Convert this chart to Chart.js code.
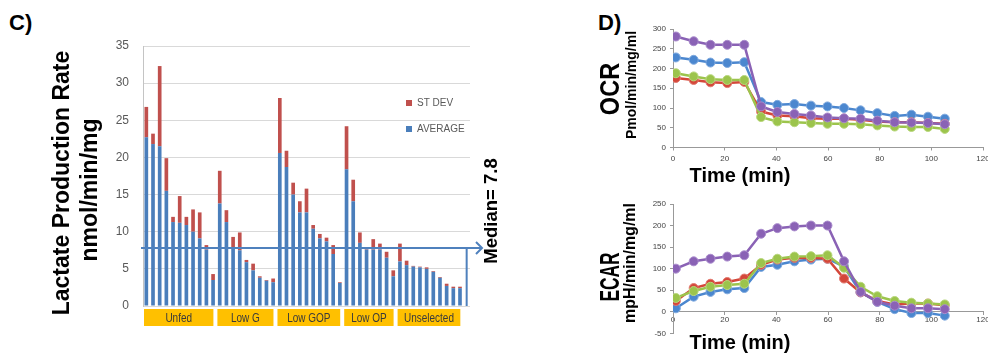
<!DOCTYPE html>
<html>
<head>
<meta charset="utf-8">
<script src="https://cdn.jsdelivr.net/npm/chart.js@4.4.1/dist/chart.umd.min.js"></script>
<style>
  html, body { margin: 0; padding: 0; background: #fff; overflow: hidden; width: 988px; height: 355px; }
  .panel { position: absolute; }
  .tag { position: absolute; font: bold 22px "Liberation Sans", Arial, sans-serif; color: #000; }
</style>
</head>
<body>
<div class="tag" style="left:9px;top:10px">C)</div>
<div class="tag" style="left:598px;top:10px">D)</div>
<div class="panel" style="left:0;top:0;width:520px;height:355px"><canvas id="lactate"></canvas></div>
<div class="panel" style="left:590px;top:0;width:410px;height:190px"><canvas id="ocr"></canvas></div>
<div class="panel" style="left:590px;top:190px;width:410px;height:165px"><canvas id="ecar"></canvas></div>

<script>
// ---- panel C: lactate production ----
const groupNames = ["Unfed", "Low G", "Low GOP", "Low OP", "Unselected"];
const groupSizes = [11, 9, 10, 8, 10];
const averageValues = [
  22.7, 21.8, 21.5, 15.5, 11.3, 11.2, 10.9, 10.0, 9.1, 7.6, 3.5,
  13.8, 11.3, 7.8, 7.5, 5.9, 4.8, 3.8, 3.4, 3.2,
  20.6, 18.7, 15.0, 12.6, 12.6, 10.4, 9.1, 8.7, 7.0, 3.1,
  18.4, 14.1, 8.5, 7.6, 7.6, 7.6, 6.5, 4.0,
  6.0, 5.5, 5.3, 5.2, 5.0, 4.6, 3.8, 2.7, 2.4, 2.4,
];
const stdevValues = [
  4.1, 1.4, 10.8, 4.4, 0.7, 3.6, 1.1, 3.0, 3.5, 0.6, 0.8,
  4.4, 1.6, 1.5, 2.4, 0.3, 0.9, 0.2, 0.1, 0.5,
  7.4, 2.2, 1.6, 1.5, 3.2, 0.5, 0.6, 0.5, 1.2, 0.1,
  5.8, 2.9, 1.4, 0.3, 1.4, 0.8, 0.8, 0.8,
  2.4, 0.6, 0.1, 0.1, 0.2, 0.1, 0.1, 0.3, 0.2, 0.2,
];
const medianValue = 7.8;
const lactateTicks = { min: 0, max: 35, step: 5 };

// ---- panel D: OCR / ECAR time courses ----
const timeMin = [1.1, 8.0, 14.5, 21.0, 27.6, 34.1, 40.4, 47.0, 53.4, 59.8, 66.2, 72.6, 79.1, 85.8, 92.3, 98.7, 105.2];
const ocrPurple = [281, 269, 260, 260, 260, 104, 90, 85, 81, 76, 74, 73, 68, 64, 63, 62, 59];
const ocrBlue = [228, 222, 215, 214, 216, 115, 108, 110, 106, 104, 100, 94, 87, 80, 83, 78, 73];
const ocrRed = [176, 171, 165, 163, 166, 91, 81, 79, 74, 73, 73, 70, 66, 64, 64, 62, 60];
const ocrGreen = [188, 180, 173, 171, 171, 77, 66, 64, 62, 60, 60, 59, 56, 53, 52, 52, 47];
const ecarPurple = [100, 117, 123, 128, 131, 181, 194, 198, 200, 200, 117, 46, 23, 14, 8, 8, 6];
const ecarBlue = [8, 35, 46, 52, 55, 104, 109, 117, 121, 123, 105, 45, 23, 6, -3, -3, -9];
const ecarRed = [25, 55, 65, 69, 77, 109, 121, 125, 125, 123, 77, 45, 25, 17, 19, 19, 15];
const ecarGreen = [32, 48, 58, 62, 65, 113, 123, 128, 129, 131, 102, 58, 36, 25, 21, 19, 17];

const seriesColors = {
  purple: ["#8a62b5", "#a98bcc"],
  green: ["#9cc44c", "#b9d87e"],
  red: ["#d4473a", "#e27a70"],
  blue: ["#4b87cf", "#7fa9de"],
};

Chart.defaults.font.family = '"Liberation Sans", Arial, sans-serif';
Chart.defaults.animation = false;

// free text (titles, labels) drawn on top of a chart
const textLayer = {
  id: "textLayer",
  afterDraw(chart, args, opts) {
    const ctx = chart.ctx;
    (opts.items || []).forEach((t) => {
      ctx.save();
      ctx.translate(t.x, t.y);
      if (t.rotate) ctx.rotate(-Math.PI / 2);
      if (t.squeeze) ctx.scale(t.squeeze, 1);
      ctx.font = t.font;
      ctx.fillStyle = t.color || "#000";
      ctx.textAlign = "center";
      ctx.textBaseline = "middle";
      ctx.fillText(t.text, 0, 0);
      ctx.restore();
    });
  },
};

// group boxes, median arrow and legend of the bar chart
const lactateDecor = {
  id: "lactateDecor",
  afterDraw(chart) {
    const { ctx, chartArea, scales } = chart;
    const x = scales.x;
    const y = scales.y;
    const slot = x.getPixelForValue(1) - x.getPixelForValue(0);
    ctx.save();

    let start = 0;
    groupNames.forEach((name, i) => {
      const end = start + groupSizes[i] - 1;
      const left = x.getPixelForValue(start) - slot / 2 + 1;
      const right = x.getPixelForValue(end) + slot / 2 - 3;
      ctx.fillStyle = "#FFC000";
      ctx.fillRect(left, chartArea.bottom + 3, right - left, 17);
      ctx.save();
      ctx.translate((left + right) / 2, chartArea.bottom + 12);
      ctx.scale(0.74, 1);
      ctx.fillStyle = "#3a3a3a";
      ctx.font = '13.5px "Liberation Sans", Arial, sans-serif';
      ctx.textAlign = "center";
      ctx.textBaseline = "middle";
      ctx.fillText(name, 0, 0);
      ctx.restore();
      start = end + 1;
    });

    const yMed = y.getPixelForValue(medianValue);
    const xLast = x.getPixelForValue(chart.data.labels.length - 1);
    const tip = chartArea.right + 12;
    ctx.strokeStyle = "#4F81BD";
    ctx.lineWidth = 2;
    ctx.beginPath();
    ctx.moveTo(chartArea.left - 2, yMed);
    ctx.lineTo(tip, yMed);
    ctx.moveTo(xLast, y.getPixelForValue(0));
    ctx.lineTo(xLast, yMed);
    ctx.moveTo(tip - 6, yMed - 6);
    ctx.lineTo(tip, yMed);
    ctx.lineTo(tip - 6, yMed + 6);
    ctx.stroke();

    const legendItems = chart.data.datasets.slice().reverse();
    ctx.font = '10px "Liberation Sans", Arial, sans-serif';
    ctx.textAlign = "left";
    ctx.textBaseline = "middle";
    legendItems.forEach((ds, i) => {
      const ly = chartArea.top + 57 + i * 26;
      ctx.fillStyle = ds.backgroundColor;
      ctx.fillRect(chartArea.right - 64, ly - 3, 6, 6);
      ctx.fillStyle = "#595959";
      ctx.fillText(ds.label, chartArea.right - 53, ly);
    });
    ctx.restore();
  },
};

const lactateLabels = [];
groupNames.forEach((name, i) => {
  for (let k = 1; k <= groupSizes[i]; k++) lactateLabels.push(name + " " + k);
});
lactateLabels.push("Median");

new Chart(document.getElementById("lactate"), {
  type: "bar",
  data: {
    labels: lactateLabels,
    datasets: [
      { label: "AVERAGE", data: [...averageValues, null], backgroundColor: "#4A7EBB" },
      { label: "ST DEV", data: [...stdevValues, null], backgroundColor: "#C0504D" },
    ],
  },
  options: {
    responsive: true,
    maintainAspectRatio: false,
    layout: { padding: { left: 0, right: 50, top: 46, bottom: 49 } },
    datasets: { bar: { barPercentage: 0.55, categoryPercentage: 1.0, borderWidth: 0 } },
    plugins: {
      legend: { display: false },
      tooltip: { enabled: false },
      textLayer: {
        items: [
          { text: "Lactate Production Rate", x: 63, y: 183, rotate: true, font: 'bold 23px "Liberation Sans", Arial, sans-serif' },
          { text: "nmol/min/mg", x: 91, y: 190, rotate: true, font: 'bold 23px "Liberation Sans", Arial, sans-serif' },
          { text: "Median= " + medianValue, x: 492, y: 211, rotate: true, font: 'bold 18.5px "Liberation Sans", Arial, sans-serif' },
        ],
      },
    },
    scales: {
      x: { display: false, stacked: true },
      y: {
        stacked: true,
        min: lactateTicks.min,
        max: lactateTicks.max,
        afterFit: (s) => { s.width = 143; },
        ticks: { stepSize: lactateTicks.step, padding: 14, color: "#595959", font: { size: 12 } },
        grid: { color: "#d9d9d9", drawTicks: false },
        border: { color: "#c4c4c4" },
      },
    },
  },
  plugins: [lactateDecor, textLayer],
});

function lineSeries(values, key) {
  const [main, rim] = seriesColors[key];
  return {
    data: values.map((v, i) => ({ x: timeMin[i], y: v })),
    borderColor: main,
    backgroundColor: main,
    borderWidth: 2.5,
    pointRadius: 4.5,
    pointBackgroundColor: main,
    pointBorderColor: rim,
    pointBorderWidth: 1,
    tension: 0,
  };
}

function timeAxis(extra) {
  return Object.assign({
    type: "linear",
    min: 0,
    max: 120,
    ticks: { stepSize: 20, padding: 3, color: "#444", font: { size: 8 } },
    grid: { display: true, drawOnChartArea: false, tickLength: 3, color: "#999" },
    border: { color: "#999" },
  }, extra);
}

function rateAxis(min, max) {
  return {
    min: min,
    max: max,
    afterFit: (s) => { s.width = 83; },
    ticks: { stepSize: 50, padding: 4, color: "#444", font: { size: 8 } },
    grid: { display: true, drawOnChartArea: false, tickLength: 3, color: "#999" },
    border: { color: "#999" },
  };
}

new Chart(document.getElementById("ocr"), {
  type: "line",
  data: {
    datasets: [
      lineSeries(ocrPurple, "purple"),
      lineSeries(ocrGreen, "green"),
      lineSeries(ocrRed, "red"),
      lineSeries(ocrBlue, "blue"),
    ],
  },
  options: {
    responsive: true,
    maintainAspectRatio: false,
    layout: { padding: { left: 0, right: 17, top: 29, bottom: 22.5 } },
    plugins: {
      legend: { display: false },
      tooltip: { enabled: false },
      textLayer: {
        items: [
          { text: "OCR", x: 21, y: 89, rotate: true, squeeze: 0.84, font: 'bold 28px "Liberation Sans", Arial, sans-serif' },
          { text: "Pmol/min/mg/ml", x: 42, y: 85, rotate: true, font: 'bold 14px "Liberation Sans", Arial, sans-serif' },
          { text: "Time (min)", x: 150, y: 176, font: 'bold 20px "Liberation Sans", Arial, sans-serif' },
        ],
      },
    },
    scales: {
      x: timeAxis({ afterFit: (s) => { s.height = 20; } }),
      y: rateAxis(0, 300),
    },
  },
  plugins: [textLayer],
});

new Chart(document.getElementById("ecar"), {
  type: "line",
  data: {
    datasets: [
      lineSeries(ecarPurple, "purple"),
      lineSeries(ecarGreen, "green"),
      lineSeries(ecarRed, "red"),
      lineSeries(ecarBlue, "blue"),
    ],
  },
  options: {
    responsive: true,
    maintainAspectRatio: false,
    layout: { padding: { left: 0, right: 17, top: 14, bottom: 21.7 } },
    plugins: {
      legend: { display: false },
      tooltip: { enabled: false },
      textLayer: {
        items: [
          { text: "ECAR", x: 21, y: 87, rotate: true, squeeze: 0.62, font: 'bold 28px "Liberation Sans", Arial, sans-serif' },
          { text: "mpH/min/mg/ml", x: 41, y: 73, rotate: true, font: 'bold 16px "Liberation Sans", Arial, sans-serif' },
          { text: "Time (min)", x: 150, y: 153, font: 'bold 20px "Liberation Sans", Arial, sans-serif' },
        ],
      },
    },
    scales: {
      x: timeAxis({ position: { y: 0 }, ticks: { stepSize: 20, padding: 0, color: "#444", font: { size: 8 } } }),
      y: rateAxis(-50, 250),
    },
  },
  plugins: [textLayer],
});
</script>
</body>
</html>
